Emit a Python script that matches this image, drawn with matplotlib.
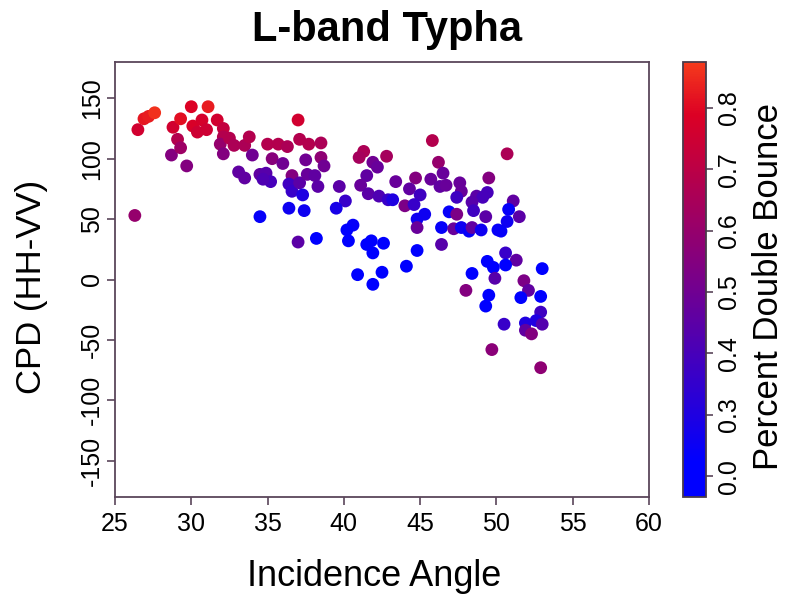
import matplotlib
matplotlib.use("Agg")
import matplotlib.pyplot as plt
import numpy as np
from matplotlib.colors import LinearSegmentedColormap, Normalize

plt.rcParams['font.family'] = ['Liberation Sans', 'DejaVu Sans']
plt.rcParams['axes.unicode_minus'] = False

# Incidence angle (deg), CPD (HH-VV) and fraction of double-bounce scattering
incidence_angle = [
    26.3, 26.5, 26.9, 27.2, 27.6, 28.7, 28.8, 29.1, 29.3, 29.3, 29.7, 30.0, 30.1,
    30.4, 30.7, 31.0, 31.1, 31.7, 32.1, 32.1, 31.9, 32.5, 32.1, 32.8, 33.5, 33.8,
    34.0, 33.1, 33.5, 34.5, 34.5, 34.9, 35.2, 34.7, 35.0, 35.7, 36.3, 35.3, 36.0,
    37.0, 37.1, 37.7, 38.5, 37.5, 38.5, 38.7, 36.6, 36.4, 36.6, 37.1, 37.6, 38.1,
    38.3, 37.3, 36.4, 37.4, 37.0, 38.2, 39.7, 40.1, 39.5, 41.3, 41.0, 42.8, 41.9,
    42.2, 41.5, 41.1, 41.6, 42.3, 42.9, 43.2, 43.4, 44.0, 40.6, 40.2, 40.3, 41.5,
    41.8, 41.9, 42.6, 40.9, 41.9, 42.5, 44.1, 44.8, 45.8, 46.2, 46.5, 44.7, 45.7,
    46.3, 46.7, 44.3, 45.0, 44.6, 45.3, 44.8, 46.9, 44.8, 46.4, 46.4, 50.7, 49.5,
    47.6, 47.7, 47.4, 48.7, 49.4, 49.1, 48.4, 51.1, 47.4, 48.5, 49.3, 50.8, 51.5,
    50.7, 47.2, 47.7, 48.2, 48.4, 49.0, 50.1, 50.3, 50.6, 51.3, 49.4, 49.8, 50.6,
    53.0, 48.4, 49.9, 51.8, 52.1, 48.0, 49.5, 49.3, 51.6, 52.9, 52.9, 52.6, 53.0,
    50.5, 51.9, 51.9, 52.3, 49.7, 52.9,
]
cpd = [
    53, 124, 133, 135, 138, 103, 126, 116, 109, 133, 94, 143, 127,
    122, 132, 124, 143, 132, 125, 118, 112, 117, 104, 111, 111, 118,
    103, 89, 84, 87, 52, 88, 81, 83, 112, 112, 110, 100, 96,
    132, 116, 112, 113, 99, 101, 94, 86, 79, 73, 80, 87, 86,
    77, 70, 59, 57, 31, 34, 77, 65, 59, 106, 101, 102, 97,
    93, 86, 78, 71, 69, 66, 66, 81, 61, 45, 41, 32, 29,
    32, 22, 30, 4, -4, 6, 11, 24, 115, 97, 88, 84, 83,
    77, 78, 75, 70, 62, 54, 50, 56, 43, 43, 29, 104, 84,
    80, 73, 68, 69, 72, 68, 64, 65, 54, 57, 52, 58, 52,
    48, 42, 43, 40, 43, 41, 41, 40, 22, 16, 15, 10, 12,
    9, 5, 1, -1, -9, -9, -13, -22, -15, -14, -27, -34, -37,
    -37, -36, -42, -45, -58, -73,
]
double_bounce = [
    0.60, 0.76, 0.82, 0.83, 0.86, 0.55, 0.76, 0.68, 0.62, 0.81, 0.55, 0.79, 0.78,
    0.75, 0.77, 0.75, 0.83, 0.76, 0.72, 0.68, 0.60, 0.68, 0.55, 0.66, 0.66, 0.68,
    0.50, 0.46, 0.46, 0.46, 0.24, 0.44, 0.40, 0.42, 0.68, 0.68, 0.66, 0.56, 0.50,
    0.76, 0.68, 0.68, 0.66, 0.50, 0.58, 0.50, 0.55, 0.38, 0.36, 0.45, 0.48, 0.46,
    0.45, 0.30, 0.26, 0.26, 0.45, 0.22, 0.45, 0.36, 0.28, 0.66, 0.64, 0.64, 0.50,
    0.48, 0.46, 0.48, 0.45, 0.42, 0.36, 0.30, 0.48, 0.53, 0.24, 0.22, 0.22, 0.20,
    0.22, 0.20, 0.20, 0.20, 0.20, 0.20, 0.20, 0.22, 0.68, 0.60, 0.48, 0.55, 0.48,
    0.46, 0.48, 0.46, 0.38, 0.36, 0.26, 0.26, 0.24, 0.48, 0.24, 0.44, 0.66, 0.55,
    0.48, 0.48, 0.38, 0.45, 0.40, 0.40, 0.44, 0.46, 0.53, 0.38, 0.45, 0.24, 0.45,
    0.26, 0.48, 0.26, 0.24, 0.46, 0.26, 0.24, 0.24, 0.36, 0.46, 0.22, 0.22, 0.22,
    0.20, 0.22, 0.44, 0.53, 0.46, 0.55, 0.22, 0.22, 0.22, 0.22, 0.38, 0.30, 0.43,
    0.36, 0.30, 0.46, 0.55, 0.57, 0.58,
]

x_ticks = [25, 30, 35, 40, 45, 50, 55, 60]
y_ticks = [-150, -100, -50, 0, 50, 100, 150]
cbar_ticks = [0.2, 0.3, 0.4, 0.5, 0.6, 0.7, 0.8]
cbar_ticklabels = ['0.0', '0.3', '0.4', '0.5', '0.6', '0.7', '0.8']

cmap = LinearSegmentedColormap.from_list(
    'blue_red',
    [(0.0, '#0000FF'), (0.08, '#0000FF'), (0.5, '#78008A'),
     (0.88, '#DC0024'), (1.0, '#F53A1C')])
norm = Normalize(vmin=0.166, vmax=0.875)

frame = '#5a465a'
W, H = 785, 598

fig = plt.figure(figsize=(W / 100, H / 100), dpi=100)
ax = fig.add_axes([115 / W, 1 - 497 / H, 534 / W, 435 / H])
cax = fig.add_axes([683 / W, 1 - 497 / H, 23 / W, 435 / H])

sc = ax.scatter(incidence_angle, cpd, c=double_bounce, cmap=cmap, norm=norm,
                s=85, edgecolors='none', zorder=3)

ax.set_xlim(25, 60)
ax.set_ylim(-180, 180)
ax.set_xticks(x_ticks)
ax.set_yticks(y_ticks)
ax.tick_params(axis='both', direction='out', length=6, width=1.2,
               color=frame, labelsize=18)
ax.tick_params(axis='x', pad=5)
ax.tick_params(axis='y', pad=2)
for lab in ax.get_yticklabels():
    lab.set_rotation(90)
    lab.set_va('center')
for sp in ax.spines.values():
    sp.set_color(frame)
    sp.set_linewidth(1.3)

fig.text(387 / W, 1 - 30 / H, 'L-band Typha', fontsize=30, fontweight='bold',
         ha='center', va='center')
fig.text(374 / W, 1 - 577 / H, 'Incidence Angle', fontsize=26,
         ha='center', va='center')
fig.text(32 / W, 1 - 287 / H, 'CPD (HH-VV)', fontsize=25, rotation=90,
         ha='center', va='center')

cb = fig.colorbar(sc, cax=cax)
cb.set_ticks(cbar_ticks)
cb.set_ticklabels(cbar_ticklabels)
cb.outline.set_edgecolor('#4a3a4a')
cb.outline.set_linewidth(1.3)
cax.tick_params(direction='out', length=5, width=1.2, color=frame,
                labelsize=18, pad=3)
for lab in cax.get_yticklabels():
    lab.set_rotation(90)
    lab.set_va('center')
fig.text(769 / W, 1 - 287 / H, 'Percent Double Bounce', fontsize=25,
         rotation=90, ha='center', va='center')

fig.savefig('out.png', dpi=100)
